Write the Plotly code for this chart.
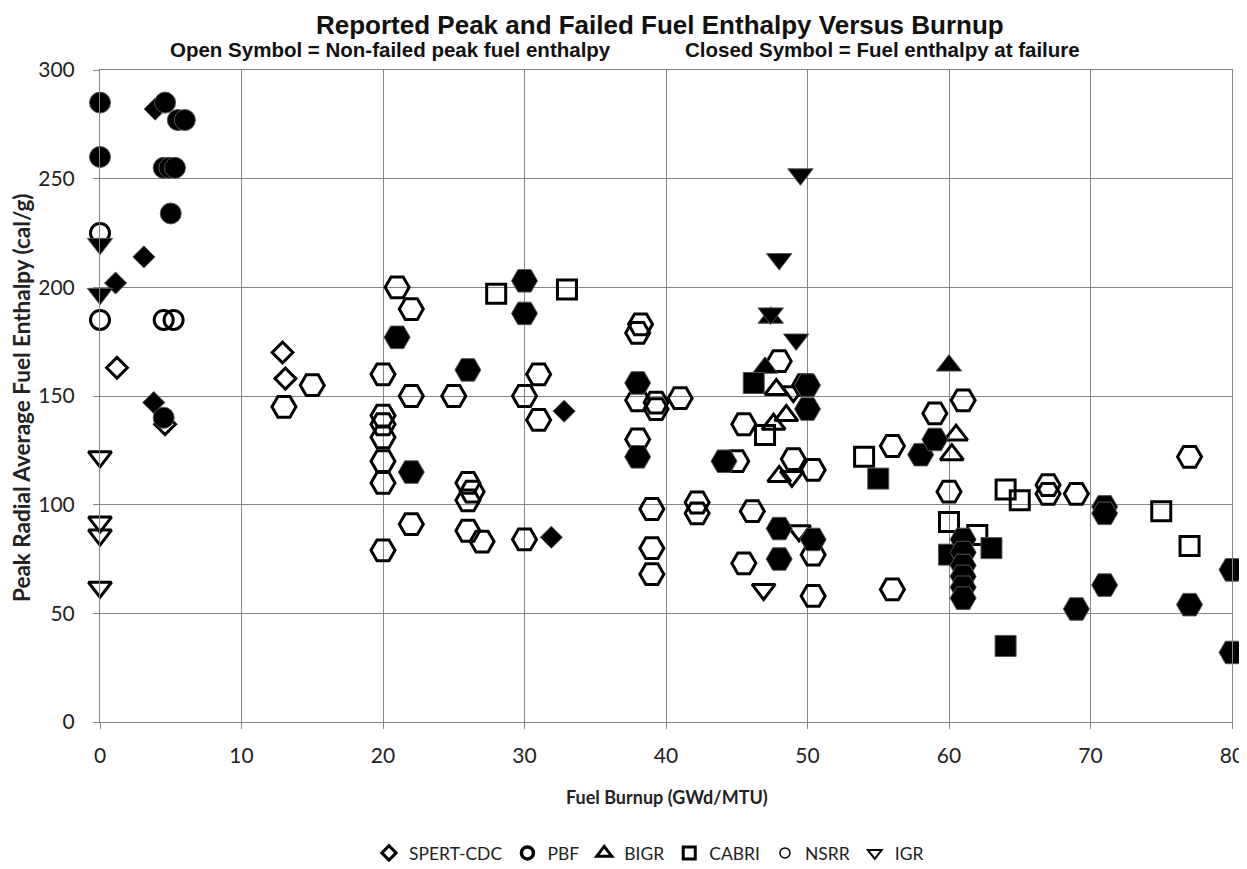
import plotly.graph_objects as go

# ---------------- data ----------------
spert_open_x = [1.2, 4.6, 12.9, 13.1]
spert_open_y = [163, 137, 170, 158]
spert_fail_x = [3.9, 3.1, 1.1, 3.8, 32.8, 31.9]
spert_fail_y = [282, 214, 202, 147, 143, 85]

pbf_open_x = [0, 0, 4.5, 5.2]
pbf_open_y = [225, 185, 185, 185]
pbf_fail_x = [0, 0, 4.6, 5.5, 6.0, 4.5, 4.9, 5.3, 5.0, 4.5]
pbf_fail_y = [285, 260, 285, 277, 277, 255, 255, 255, 234, 140]

bigr_open_x = [47.8, 48.5, 47.6, 48.0, 60.5, 60.2]
bigr_open_y = [153, 141, 137, 113, 132, 123]
bigr_fail_x = [47.0, 47.4, 60.0]
bigr_fail_y = [163, 186, 164]

cabri_open_x = [28, 33, 47.0, 54, 60, 62, 64, 65, 75, 77]
cabri_open_y = [197, 199, 132, 122, 92, 86, 107, 102, 97, 81]
cabri_fail_x = [46.2, 55, 60, 63, 64]
cabri_fail_y = [156, 112, 77, 80, 35]

nsrr_open_x = [13, 15, 20, 20, 20, 20, 20, 20, 20, 21, 22, 22, 22, 25, 26, 26.3, 26,
               26, 27, 30, 30, 31, 31, 38.2, 38, 38, 39.3, 39.3, 41, 38, 39, 39, 39,
               42.2, 42.2, 45, 45.5, 46.1, 45.5, 48, 49, 50.4, 50.4, 50.4, 49.8, 56,
               56, 59, 61, 60, 67, 67, 69, 77]
nsrr_open_y = [145, 155, 160, 141, 137, 131, 120, 110, 79, 200, 190, 150, 91, 150, 110, 106, 102,
               88, 83, 150, 84, 160, 139, 183, 179, 148, 147, 144, 149, 130, 98, 80, 68,
               101, 96, 120, 137, 97, 73, 166, 121, 116, 77, 58, 155, 127,
               61, 142, 148, 106, 109, 105, 105, 122]
nsrr_fail_x = [21, 22, 26, 30, 30, 38, 38, 44.1, 48, 48, 50.4, 50, 50, 58, 59,
               61, 61, 61, 61, 61, 61, 71, 71, 71, 69, 77, 80, 80]
nsrr_fail_y = [177, 115, 162, 203, 188, 156, 122, 120, 89, 75, 84, 155, 144, 123, 130,
               84, 78, 72, 67, 62, 57, 99, 96, 63, 52, 54, 70, 32]

igr_open_x = [0, 0, 0, 0, 49, 48.9, 49.4, 46.9]
igr_open_y = [122, 92, 86, 62, 152, 113, 88, 61]
igr_fail_x = [0, 0, 49.5, 48, 47.4, 49.2]
igr_fail_y = [220, 197, 252, 213, 188, 176]

legend_names = ["SPERT-CDC", "PBF", "BIGR", "CABRI", "NSRR", "IGR"]

# ---------------- figure ----------------
fig = go.Figure()

open_sets = [
    (spert_open_x, spert_open_y, "diamond-open", 16),
    (pbf_open_x, pbf_open_y, "circle-open", 19),
    (bigr_open_x, bigr_open_y, "triangle-up-open", 20),
    (cabri_open_x, cabri_open_y, "square-open", 19),
    (nsrr_open_x, nsrr_open_y, "hexagon2-open", 24),
    (igr_open_x, igr_open_y, "triangle-down-open", 20),
]
fail_sets = [
    (spert_fail_x, spert_fail_y, "diamond", 17),
    (pbf_fail_x, pbf_fail_y, "circle", 21),
    (bigr_fail_x, bigr_fail_y, "triangle-up", 22),
    (cabri_fail_x, cabri_fail_y, "square", 21),
    (nsrr_fail_x, nsrr_fail_y, "hexagon2", 26),
    (igr_fail_x, igr_fail_y, "triangle-down", 22),
]

for (xs, ys, sym, sz), name in zip(open_sets, legend_names):
    fig.add_trace(go.Scatter(
        x=xs, y=ys, mode="markers", name=name, showlegend=False, cliponaxis=False,
        marker=dict(symbol=sym, size=sz, color="black", line=dict(width=3, color="black")),
    ))
for (xs, ys, sym, sz), name in zip(fail_sets, legend_names):
    fig.add_trace(go.Scatter(
        x=xs, y=ys, mode="markers", name=name, showlegend=False, cliponaxis=False,
        marker=dict(symbol=sym, size=sz, color="black", line=dict(width=1, color="#555555")),
    ))

# legend entries (open symbols, as in the reference legend)
legend_syms = [("diamond-open", 11, 3), ("circle-open", 12, 3.5), ("triangle-up-open", 13, 3),
               ("square-open", 12, 3), ("circle-open", 10, 1.5), ("triangle-down-open", 12, 2)]
for name, (sym, sz, lw) in zip(legend_names, legend_syms):
    fig.add_trace(go.Scatter(
        x=[None], y=[None], mode="markers", name=name, showlegend=True,
        marker=dict(symbol=sym, size=sz, color="black", line=dict(width=lw, color="black")),
    ))

grid = "#858585"
tickfont = dict(family="Lato, Open Sans, sans-serif", size=21, color="#222222")
fig.update_xaxes(range=[0, 80], dtick=10, tick0=0, showgrid=True, gridcolor=grid, gridwidth=1,
                 zeroline=False, showline=True, mirror=True, linecolor=grid, linewidth=1,
                 ticks="outside", ticklen=6, tickcolor=grid, tickfont=tickfont,
                 ticklabelstandoff=9, ticklabeloverflow="allow")
fig.update_yaxes(range=[0, 300], dtick=50, tick0=0, showgrid=True, gridcolor=grid, gridwidth=1,
                 zeroline=False, showline=True, mirror=True, linecolor=grid, linewidth=1,
                 ticks="outside", ticklen=6, tickcolor=grid, tickfont=tickfont,
                 ticklabelstandoff=14)

# page has an 8px body margin: plot area lands at page x 100..1232, y 70..722
W, H = 1239, 861
L, R, T, B = 92, 15, 62, 147
PW, PH = W - L - R, H - T - B

fig.update_layout(
    width=W, height=H,
    margin=dict(l=L, r=R, t=T, b=B, autoexpand=False),
    paper_bgcolor="white", plot_bgcolor="white",
    showlegend=True,
    legend=dict(orientation="h", x=(641 - L) / PW, xanchor="center",
                y=-(845 - (H - B)) / PH, yanchor="middle",
                font=dict(family="Lato, Open Sans, sans-serif", size=17.5, color="#222222"),
                itemsizing="trace", bgcolor="rgba(0,0,0,0)"),
    annotations=[
        dict(text="<b>Reported Peak and Failed Fuel Enthalpy Versus Burnup</b>",
             xref="paper", yref="paper", x=(652 - L) / PW, y=1, yshift=T, xanchor="center", yanchor="top",
             showarrow=False, font=dict(family="Liberation Sans, Arial, sans-serif", size=26, color="#111111")),
        dict(text="<b>Open Symbol = Non-failed peak fuel enthalpy</b>",
             xref="paper", yref="paper", x=(160 - L) / PW, y=1, yshift=T - 41, xanchor="left", yanchor="middle",
             showarrow=False, font=dict(family="Liberation Sans, Arial, sans-serif", size=20.5, color="#111111")),
        dict(text="<b>Closed Symbol = Fuel enthalpy at failure</b>",
             xref="paper", yref="paper", x=(675 - L) / PW, y=1, yshift=T - 41, xanchor="left", yanchor="middle",
             showarrow=False, font=dict(family="Liberation Sans, Arial, sans-serif", size=20.5, color="#111111")),
        dict(text="<b>Fuel Burnup (GWd/MTU)</b>",
             xref="paper", yref="paper", x=(659 - L) / PW, y=0, yshift=-75, xanchor="center", yanchor="middle",
             showarrow=False, font=dict(family="Lato, Open Sans, sans-serif", size=18, color="#222222")),
        dict(text="<b>Peak Radial Average Fuel Enthalpy (cal/g)</b>",
             xref="paper", yref="paper", x=0, xshift=-79, y=(H - B - 390) / PH, xanchor="center", yanchor="middle",
             textangle=-90, showarrow=False, font=dict(family="Lato, Open Sans, sans-serif", size=22.5, color="#222222")),
    ],
)

fig.write_html("out.html")
